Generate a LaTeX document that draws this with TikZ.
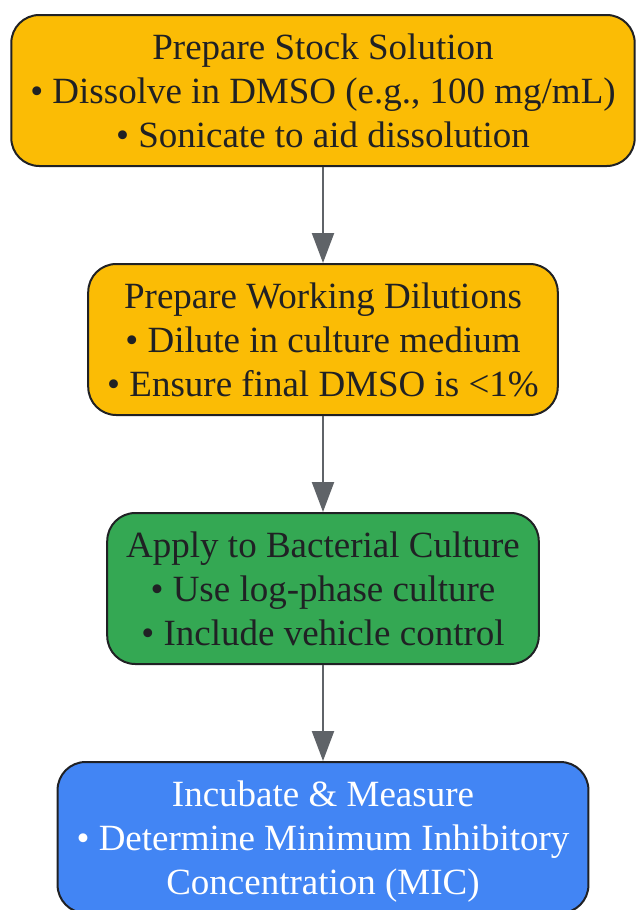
\documentclass[tikz,border=0pt]{standalone}
\usepackage{fontspec}
\setmainfont{Liberation Serif}
\usetikzlibrary{positioning,arrows.meta}

\definecolor{stepyellow}{HTML}{FBBC05}
\definecolor{stepgreen}{HTML}{34A853}
\definecolor{stepblue}{HTML}{4285F4}
\definecolor{inkdark}{HTML}{202124}
\definecolor{arrowgray}{HTML}{5F6368}

\begin{document}
\begin{tikzpicture}[x=1pt, y=1pt, node distance=96pt,
  stepbox/.style={draw=inkdark, line width=2pt, rounded corners=28pt,
    minimum height=151pt, inner xsep=19pt, align=center, text=inkdark,
    text depth=0pt, font=\fontsize{37}{43.7}\selectfont},
  flow/.style={draw=arrowgray, line width=2.2pt,
    -{Triangle[width=22pt,length=30pt]}}]
  \useasboundingbox (0,0) rectangle (636,-910);
  \node[stepbox, fill=stepyellow] (stock) at (323,-90.5)
    {Prepare Stock Solution\\ • Dissolve in DMSO (e.g., 100 mg/mL)\\ • Sonicate to aid dissolution};
  \node[stepbox, fill=stepyellow, below=of stock] (dilute)
    {Prepare Working Dilutions\\ • Dilute in culture medium\\ • Ensure final DMSO is <1\%};
  \node[stepbox, fill=stepgreen, below=of dilute] (apply)
    {Apply to Bacterial Culture\\ • Use log-phase culture\\ • Include vehicle control};
  \node[stepbox, fill=stepblue, text=white, below=of apply] (measure)
    {Incubate \& Measure\\ • Determine Minimum Inhibitory\\ Concentration (MIC)};

  \draw[flow] (stock) -- (dilute);
  \draw[flow] (dilute) -- (apply);
  \draw[flow] (apply) -- (measure);
\end{tikzpicture}
\end{document}
